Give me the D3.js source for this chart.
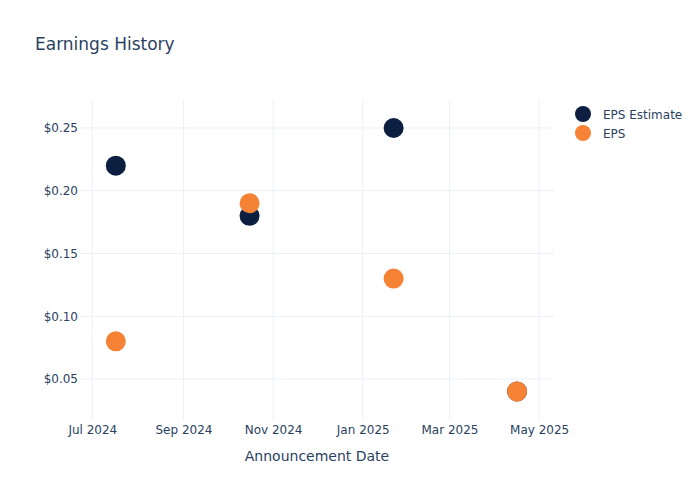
<!DOCTYPE html>
<html>
<head>
<meta charset="utf-8">
<script src="https://cdn.jsdelivr.net/npm/d3@7"></script>
<style>
  body { margin: 0; background: #fff; }
  svg { font-family: "DejaVu Sans", sans-serif; }
</style>
</head>
<body>
<svg id="chart" width="700" height="500"></svg>
<script>
const dates = ["2024-07-17", "2024-10-16", "2025-01-22", "2025-04-16"];
const epsEstimate = [0.22, 0.18, 0.25, 0.04];
const epsActual = [0.08, 0.19, 0.13, 0.04];
const yTicks = [0.05, 0.10, 0.15, 0.20, 0.25];
const seriesNames = ["EPS Estimate", "EPS"];
const seriesColors = ["#0c1f40", "#f58235"];

const W = 700, H = 500;
const m = { l: 80, r: 146, t: 100, b: 80 };
const svg = d3.select("#chart");
const parse = d3.utcParse("%Y-%m-%d");
const textColor = "#2a3f5f";
const gridColor = "#ebf0f8";

const x = d3.scaleUtc()
  .domain([new Date(Date.UTC(2024, 5, 22, 15)), new Date(Date.UTC(2025, 4, 11, 3))])
  .range([m.l, W - m.r]);
const y = d3.scaleLinear()
  .domain([0.0173, 0.2723])
  .range([H - m.b, m.t]);

// grid
const xTicks = x.ticks(d3.utcMonth.every(2));
svg.append("g").selectAll("line").data(xTicks).join("line")
  .attr("x1", d => x(d)).attr("x2", d => x(d))
  .attr("y1", m.t).attr("y2", H - m.b)
  .attr("stroke", gridColor).attr("stroke-width", 1);
svg.append("g").selectAll("line").data(yTicks).join("line")
  .attr("x1", m.l).attr("x2", W - m.r)
  .attr("y1", d => y(d)).attr("y2", d => y(d))
  .attr("stroke", gridColor).attr("stroke-width", 1);

// axes
const xAxis = svg.append("g")
  .attr("transform", `translate(0,${H - m.b})`)
  .call(d3.axisBottom(x).tickValues(xTicks).tickFormat(d3.utcFormat("%b %Y")).tickSize(0).tickPadding(5));
const yAxis = svg.append("g")
  .attr("transform", `translate(${m.l},0)`)
  .call(d3.axisLeft(y).tickValues(yTicks).tickFormat(d3.format("$.2f")).tickSize(0).tickPadding(2));
[xAxis, yAxis].forEach(a => {
  a.select(".domain").remove();
  a.selectAll("text").attr("fill", textColor).style("font-size", "12px").style("font-family", "DejaVu Sans");
});

// points
const rows = dates.map((d, i) => ({ date: parse(d), est: epsEstimate[i], eps: epsActual[i] }));
[["est", 0], ["eps", 1]].forEach(([key, k]) => {
  svg.append("g").selectAll("circle").data(rows).join("circle")
    .attr("cx", d => x(d.date)).attr("cy", d => y(d[key]))
    .attr("r", 10)
    .attr("fill", seriesColors[k]);
});

// title
svg.append("text")
  .attr("x", 35).attr("y", 50)
  .attr("fill", textColor).style("font-size", "17px")
  .text("Earnings History");

svg.append("text")
  .attr("x", (m.l + W - m.r) / 2).attr("y", 461)
  .attr("text-anchor", "middle")
  .attr("fill", textColor).style("font-size", "14px")
  .text("Announcement Date");

// legend
const lg = svg.append("g").attr("transform", "translate(583,114)");
seriesNames.forEach((name, i) => {
  const item = lg.append("g").attr("transform", `translate(0,${i * 19})`);
  item.append("circle").attr("r", 8).attr("fill", seriesColors[i]);
  item.append("text").attr("x", 20).attr("y", 4.5)
    .attr("fill", textColor).style("font-size", "12px")
    .text(name);
});
</script>
</body>
</html>
